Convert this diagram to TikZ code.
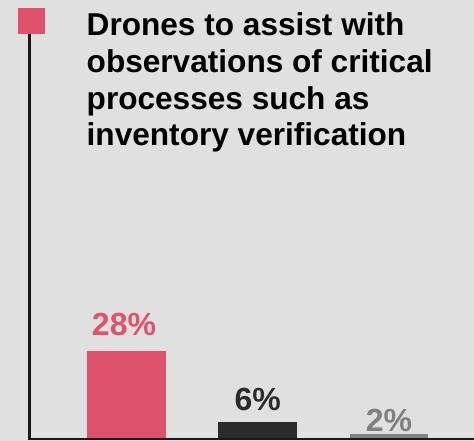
\documentclass[tikz,border=0pt]{standalone}
\usepackage{fontspec}
\setmainfont{Liberation Sans}
\definecolor{bg}{HTML}{E0E0E0}
\definecolor{pinkc}{HTML}{DE526B}
\definecolor{darkc}{HTML}{2A2C2B}
\definecolor{grayc}{HTML}{808080}
\tikzset{
  pct/.style={font=\fontsize{32}{36}\selectfont\bfseries, inner sep=0pt, anchor=base},
  ttl/.style={font=\fontsize{31.6}{36.7}\selectfont\bfseries, inner sep=0pt, anchor=base west},
  axis/.style={line width=2.2pt, color=black!90},
}
\begin{document}
\begin{tikzpicture}[x=1pt,y=-1pt]
\fill[bg] (0,0) rectangle (474,441);
\useasboundingbox (0,0) rectangle (474,441);
\fill[pinkc] (17.5,8) rectangle (44.5,34.5);
\node[ttl] (t1) at (86.5,36) {Drones to assist with};
\node[ttl] (t2) at (86.5,72.7) {observations of critical};
\node[ttl] (t3) at (86.5,109.3) {processes such as};
\node[ttl] (t4) at (86.5,146) {inventory verification};
\coordinate (top) at (29.5,34.5);
\coordinate (origin) at (29.5,439);
\coordinate (right) at (474,439);
\fill[pinkc] (87.3,351) rectangle (166.3,440);
\fill[darkc] (218.3,422) rectangle (297.3,440);
\fill[grayc] (349.7,434) rectangle (428.3,440);
\node[pct, text=pinkc] (p1) at (124,335) {28\%};
\node[pct, text=darkc] (p2) at (257.8,410) {6\%};
\node[pct, text=grayc] (p3) at (389,431) {2\%};
\draw[axis] (top) -- (origin) -- (right);
\end{tikzpicture}
\end{document}
